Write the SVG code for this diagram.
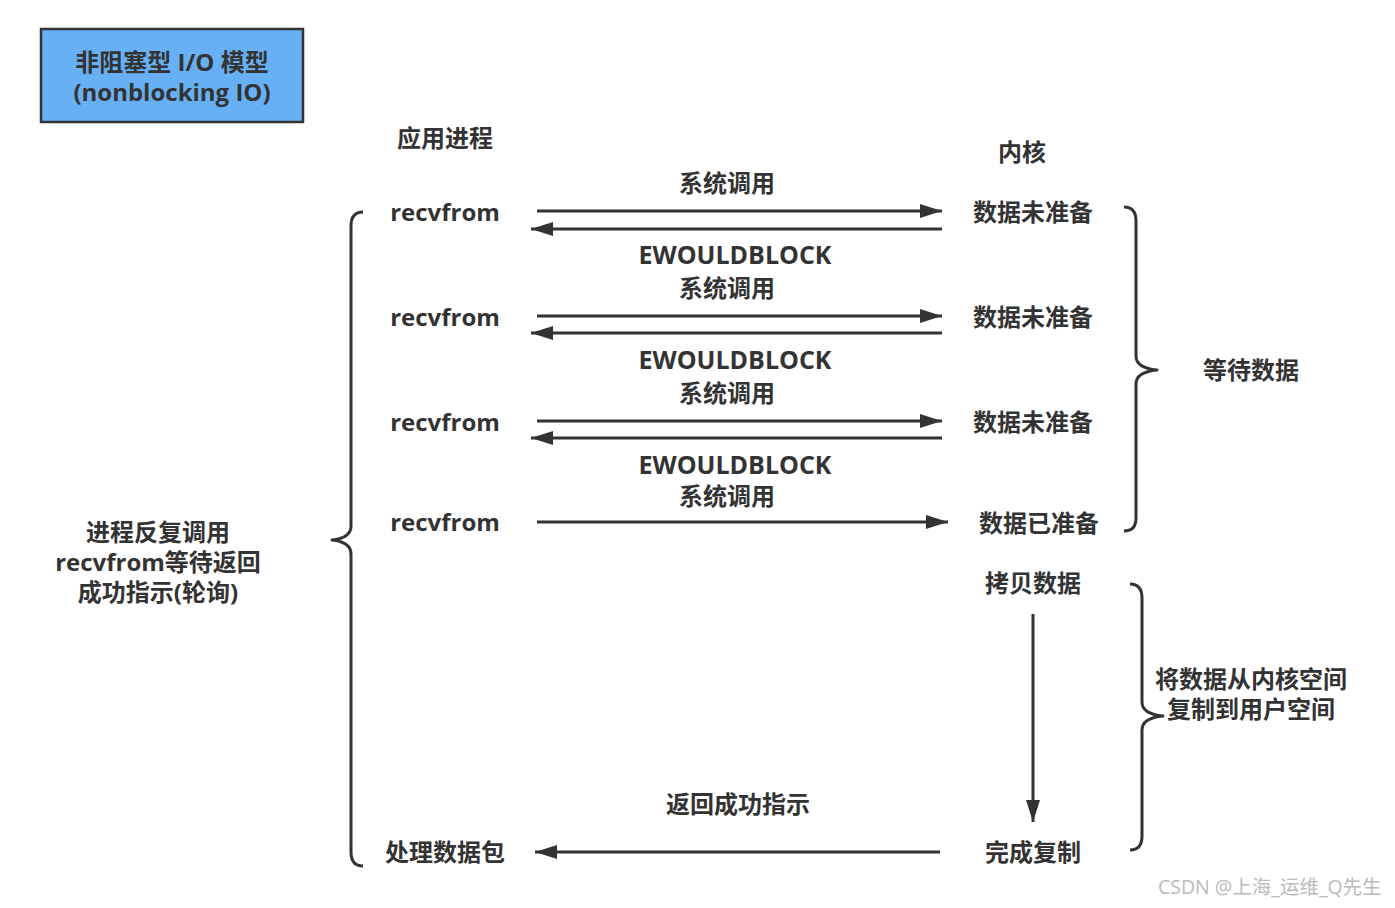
<svg xmlns="http://www.w3.org/2000/svg" width="1395" height="908" viewBox="0 0 1395 908">
<style>
text{font-family:"Open Sans","Noto Sans CJK SC",sans-serif;font-weight:bold;font-size:24px;fill:#333;text-anchor:middle;dominant-baseline:central}
.ew{font-size:25px}
.ln{stroke:#333;stroke-width:3;fill:none}
.br{stroke:#333;stroke-width:3;fill:none;stroke-linejoin:round}
.wm{font-weight:normal;font-size:19.5px;fill:#bbb;text-anchor:start}
</style>
<defs>
<marker id="ah" markerWidth="22" markerHeight="14" refX="22" refY="7" orient="auto" markerUnits="userSpaceOnUse">
<path d="M0,0 L22,7 L0,14 Z" fill="#333"/>
</marker>
</defs>
<rect width="1395" height="908" fill="#fff"/>
<g id="title">
<rect x="41" y="29" width="262" height="93" fill="#67b0f5" stroke="#333" stroke-width="2.5"/>
<text x="172" y="61">非阻塞型 I/O 模型</text>
<text x="172" y="91">(nonblocking IO)</text>
</g>
<g id="app-header"><text x="445" y="137">应用进程</text></g>
<g id="kernel-header"><text x="1022" y="151">内核</text></g>
<g id="recv1"><text x="445" y="211">recvfrom</text></g>
<g id="recv2"><text x="445" y="316">recvfrom</text></g>
<g id="recv3"><text x="445" y="421">recvfrom</text></g>
<g id="recv4"><text x="445" y="521">recvfrom</text></g>
<g id="process"><text x="445" y="851">处理数据包</text></g>
<g id="k1"><text x="1033" y="211">数据未准备</text></g>
<g id="k2"><text x="1033" y="316">数据未准备</text></g>
<g id="k3"><text x="1033" y="421">数据未准备</text></g>
<g id="k4"><text x="1039" y="522">数据已准备</text></g>
<g id="copy"><text x="1033" y="582">拷贝数据</text></g>
<g id="done"><text x="1033" y="851">完成复制</text></g>
<g id="wait-label"><text x="1251" y="369">等待数据</text></g>
<g id="copy-label"><text x="1251" y="678">将数据从内核空间</text><text x="1251" y="708">复制到用户空间</text></g>
<g id="poll-label"><text x="158" y="531">进程反复调用</text><text x="158" y="561">recvfrom等待返回</text><text x="158" y="591">成功指示(轮询)</text></g>
<g id="connectors">
<line class="ln" x1="537" y1="211" x2="942" y2="211" marker-end="url(#ah)"/>
<line class="ln" x1="942" y1="229" x2="531" y2="229" marker-end="url(#ah)"/>
<line class="ln" x1="537" y1="316" x2="942" y2="316" marker-end="url(#ah)"/>
<line class="ln" x1="942" y1="333" x2="531" y2="333" marker-end="url(#ah)"/>
<line class="ln" x1="537" y1="421" x2="942" y2="421" marker-end="url(#ah)"/>
<line class="ln" x1="942" y1="438" x2="531" y2="438" marker-end="url(#ah)"/>
<line class="ln" x1="537" y1="522" x2="948" y2="522" marker-end="url(#ah)"/>
<line class="ln" x1="1033" y1="614" x2="1033" y2="822" marker-end="url(#ah)"/>
<line class="ln" x1="940" y1="852" x2="535" y2="852" marker-end="url(#ah)"/>
<text x="727" y="182">系统调用</text>
<text class="ew" x="735" y="254">EWOULDBLOCK</text>
<text x="727" y="287">系统调用</text>
<text class="ew" x="735" y="359">EWOULDBLOCK</text>
<text x="727" y="392">系统调用</text>
<text class="ew" x="735" y="464">EWOULDBLOCK</text>
<text x="727" y="495">系统调用</text>
<text x="738" y="803">返回成功指示</text>
<path class="br" d="M363,212 Q351,212 351,226 L351,526 Q351,538 332,540 Q351,542 351,554 L351,852 Q351,866 363,866"/>
<path class="br" d="M1124,207 Q1136,207 1136,221 L1136,356 Q1136,368 1157,370 Q1136,372 1136,384 L1136,518 Q1136,531 1124,531"/>
<path class="br" d="M1130,584 Q1142,584 1142,598 L1142,702 Q1142,714 1163,716 Q1142,718 1142,730 L1142,836 Q1142,850 1130,850"/>
</g>
<text class="wm" x="1158" y="886">CSDN @上海_运维_Q先生</text>
</svg>
